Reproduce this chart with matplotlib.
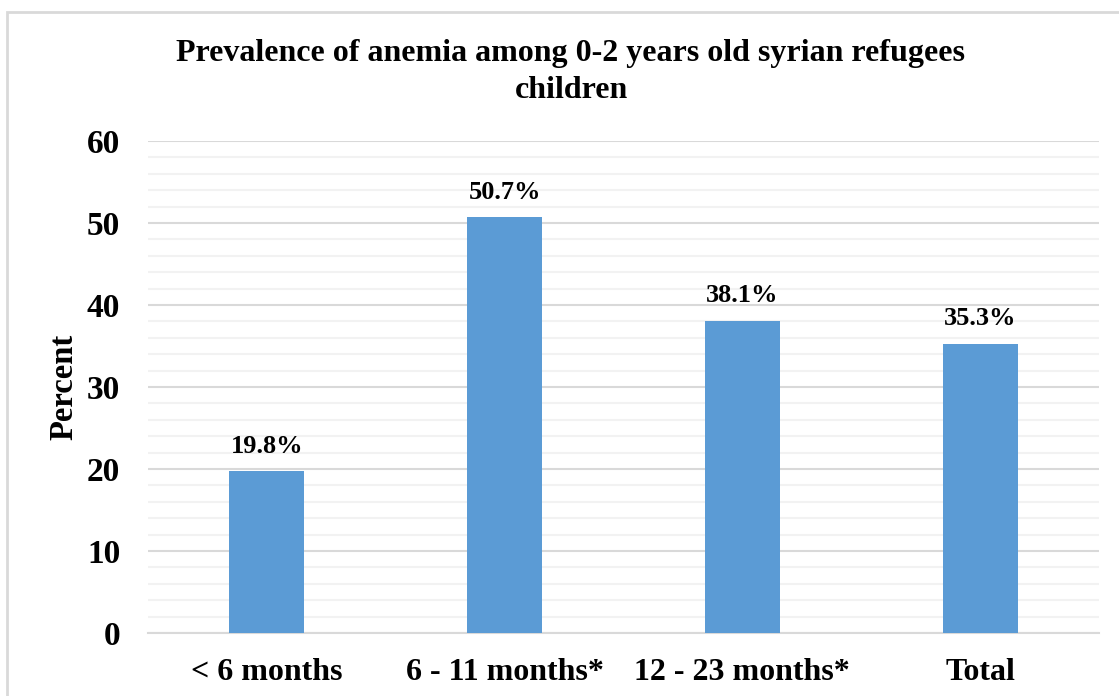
import matplotlib.pyplot as plt
from matplotlib.patches import Rectangle
from matplotlib.ticker import MultipleLocator

plt.rcParams['font.family'] = ['Liberation Serif', 'DejaVu Serif']
plt.rcParams['font.weight'] = 'bold'

# Anemia prevalence by age group
categories = ['< 6 months', '6 - 11 months*', '12 - 23 months*', 'Total']
prevalence = [19.8, 50.7, 38.1, 35.3]

fig = plt.figure(figsize=(11.19, 6.96), dpi=100)
ax = fig.add_axes([148 / 1119, 1 - 633 / 696, 951 / 1119, 492 / 696])

# Light border around the chart area
fig.patches.append(Rectangle((7 / 1119, -0.1), 1.2, 1 - 12 / 696 + 0.1,
                             transform=fig.transFigure, fill=False,
                             edgecolor='#d9d9d9', lw=2, zorder=0))

x = range(len(categories))
bars = ax.bar(x, prevalence, width=0.315, color='#5b9bd5', zorder=3)

for xi, v in zip(x, prevalence):
    ax.text(xi, v + 1.6, f'{v}%', ha='center', va='bottom',
            fontsize=19, fontweight='bold')

ax.set_xlim(-0.5, 3.5)
ax.set_ylim(0, 60)
ax.yaxis.set_major_locator(MultipleLocator(10))
ax.yaxis.set_minor_locator(MultipleLocator(2))
ax.grid(axis='y', which='major', color='#d9d9d9', lw=1.5, zorder=0)
ax.grid(axis='y', which='minor', color='#f2f2f2', lw=1.5, zorder=0)

for s in ['top', 'right', 'left']:
    ax.spines[s].set_visible(False)
ax.spines['bottom'].set_color('#d9d9d9')
ax.spines['bottom'].set_linewidth(1.5)

ax.set_xticks(list(x))
ax.set_xticklabels(categories, fontsize=23, fontweight='bold')
ax.tick_params(axis='both', which='both', length=0)
ax.tick_params(axis='x', pad=18)
ax.tick_params(axis='y', labelsize=24, pad=20)
for lbl in ax.get_yticklabels():
    lbl.set_fontweight('bold')

ax.set_ylabel('Percent', fontsize=23.5, fontweight='bold', labelpad=5)

fig.text(571 / 1119, 1 - 54 / 696, 'Prevalence of anemia among 0-2 years old syrian refugees',
         ha='center', va='center', fontsize=23, fontweight='bold')
fig.text(571 / 1119, 1 - 91 / 696, 'children',
         ha='center', va='center', fontsize=23, fontweight='bold')

fig.savefig('out.png', dpi=100)
